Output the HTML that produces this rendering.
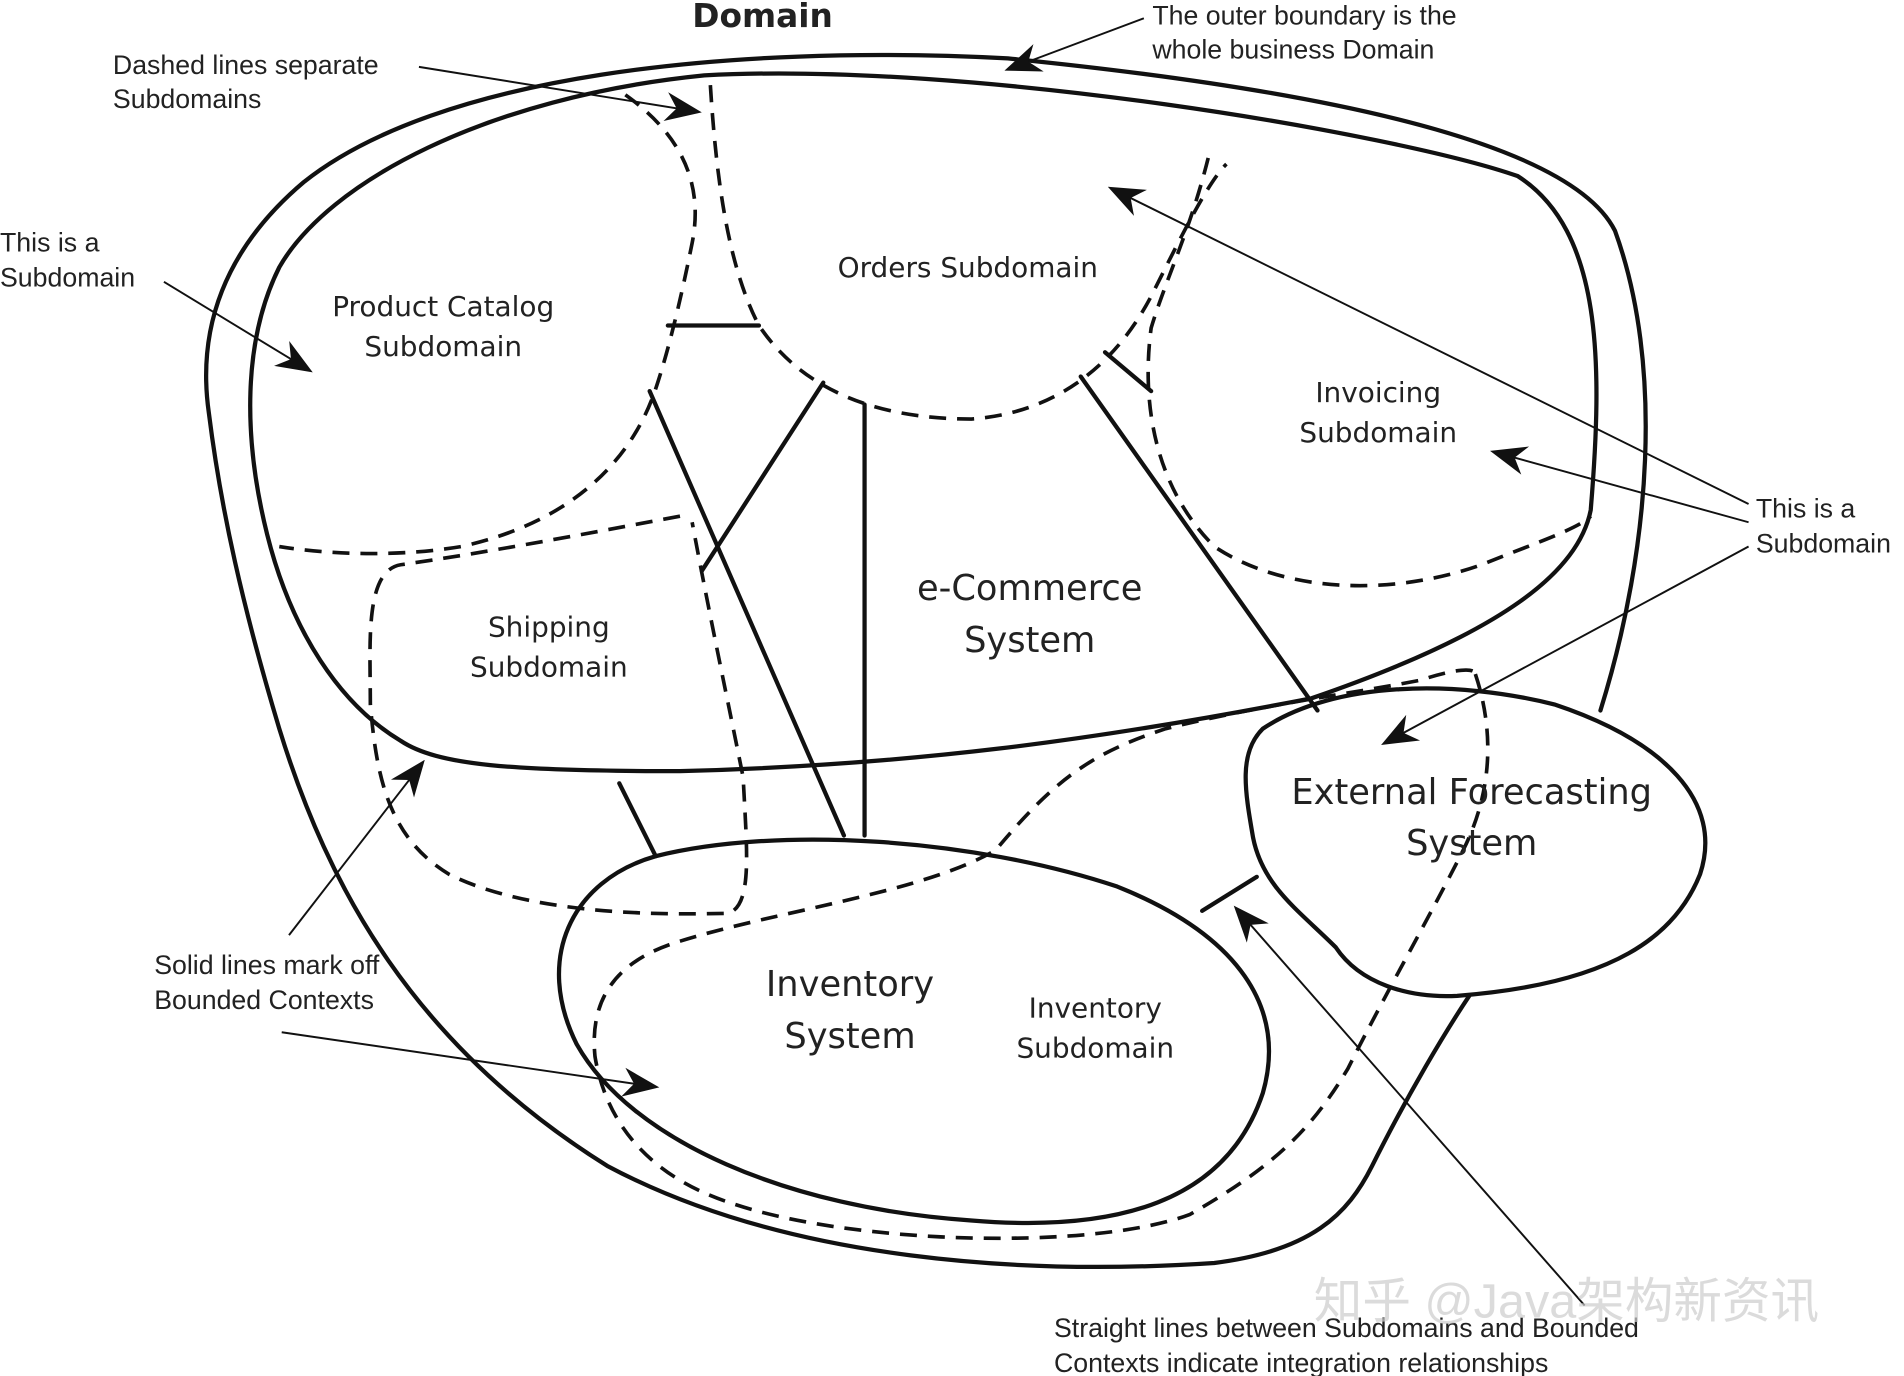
<!DOCTYPE html>
<html><head><meta charset="utf-8"><style>
html,body{margin:0;padding:0;background:#fff;}
svg{display:block;}
.h{font-family:"DejaVu Sans","Liberation Sans",sans-serif;fill:#222;}
.a{font-family:"Liberation Sans",sans-serif;fill:#222;font-size:22px;}
</style></head><body>
<svg width="1904" height="1376" viewBox="0 0 1568 1133" xmlns="http://www.w3.org/2000/svg">
<defs>
<marker id="ar2" viewBox="0 0 10 10" refX="9" refY="5" markerWidth="30" markerHeight="30" markerUnits="userSpaceOnUse" orient="auto"><path d="M0,1 L10,5 L0,9 L3,5 z" fill="#111"/></marker></defs>
<g fill="none" stroke="#111" stroke-width="3.5" stroke-linecap="round">
<!-- outer domain -->
<path d="M1318,585 C1360,450 1370,300 1330,190 C1290,110 1050,70 830,48 C600,36 360,62 250,150 C185,205 162,270 172,340 C182,420 200,500 230,600 C270,730 340,860 500,960 C650,1040 850,1050 1000,1040 C1080,1030 1110,1000 1130,960 C1160,900 1190,850 1210,820"/>
<!-- e-commerce -->
<path d="M580,62 C800,50 1150,110 1250,145 C1320,190 1320,300 1310,420 C1300,470 1240,520 1080,575 C900,610 750,630 560,635 C420,635 360,630 330,610 C280,580 240,520 220,440 C200,360 200,280 230,220 C270,150 400,80 580,62 Z"/>
<!-- inventory -->
<path d="M540,705 C640,680 800,690 920,730 C1020,770 1060,830 1040,900 C1010,990 920,1015 800,1005 C650,995 520,940 475,860 C440,790 470,725 540,705 Z"/>
<!-- forecasting -->
<path d="M1040,600 C1100,560 1200,560 1280,580 C1370,610 1420,660 1400,720 C1380,770 1330,810 1200,820 C1160,822 1120,810 1100,780 C1070,750 1040,730 1032,690 C1025,650 1020,620 1040,600 Z"/>
<!-- solid connectors -->
<path d="M535,322 L695,688"/>
<path d="M712,333 L712,688"/>
<path d="M678,315 L578,470"/>
<path d="M510,645 L540,705"/>
<path d="M890,310 L1085,585"/>
<path d="M990,750 L1035,722"/>
<path d="M550,268 L625,268"/>
<path d="M910,290 L948,322"/>
</g>
<g fill="none" stroke="#111" stroke-width="3" stroke-dasharray="14,9">
<path d="M515,78 C560,110 580,150 570,200 C560,250 550,290 540,320 C520,380 470,430 380,450 C320,460 260,455 230,450"/>
<path d="M585,70 C590,150 600,220 625,268 C660,320 720,345 800,345 C870,340 920,300 950,240 C975,190 995,150 1010,135"/>
<path d="M995,130 C980,190 960,230 948,270 C940,330 950,400 1000,450 C1060,490 1150,490 1220,465 C1270,445 1300,435 1310,425"/>
<path d="M560,425 C480,440 400,455 330,465 C300,470 305,530 305,580 C310,640 320,690 370,720 C420,745 500,755 600,752 C620,745 615,700 612,640 C600,580 585,510 570,430"/>
<path d="M1215,555 C1230,600 1230,650 1205,700 C1180,750 1140,820 1110,880 C1080,930 1050,960 980,1000 C900,1030 700,1025 600,990 C540,970 500,930 490,870 C485,820 510,790 560,775 C640,750 760,735 820,700 C870,640 900,620 960,600 C1040,580 1120,570 1170,560 C1200,550 1215,550 1215,555"/>
</g>
<g stroke="#111" stroke-width="1.6" fill="none">
<path d="M345,55 L575,92" marker-end="url(#ar2)"/>
<path d="M942,15 L830,57" marker-end="url(#ar2)"/>
<path d="M135,232 L255,305" marker-end="url(#ar2)"/>
<path d="M1440,415 L915,155" marker-end="url(#ar2)"/>
<path d="M1440,430 L1230,372" marker-end="url(#ar2)"/>
<path d="M1440,450 L1140,612" marker-end="url(#ar2)"/>
<path d="M238,770 L348,628" marker-end="url(#ar2)"/>
<path d="M232,850 L540,895" marker-end="url(#ar2)"/>
<path d="M1305,1075 L1018,748" marker-end="url(#ar2)"/>
</g>
<g class="h" text-anchor="middle">
<text x="628" y="22" font-size="27" font-weight="bold">Domain</text>
<text x="365" y="260" font-size="23">Product Catalog</text>
<text x="365" y="293" font-size="23">Subdomain</text>
<text x="797" y="228" font-size="23">Orders Subdomain</text>
<text x="1135" y="331" font-size="23">Invoicing</text>
<text x="1135" y="364" font-size="23">Subdomain</text>
<text x="452" y="524" font-size="23">Shipping</text>
<text x="452" y="557" font-size="23">Subdomain</text>
<text x="848" y="494" font-size="29">e-Commerce</text>
<text x="848" y="537" font-size="29">System</text>
<text x="1212" y="662" font-size="29">External Forecasting</text>
<text x="1212" y="704" font-size="29">System</text>
<text x="700" y="820" font-size="29">Inventory</text>
<text x="700" y="863" font-size="29">System</text>
<text x="902" y="838" font-size="23">Inventory</text>
<text x="902" y="871" font-size="23">Subdomain</text>
</g>
<g class="a">
<text x="93" y="61">Dashed lines separate</text>
<text x="93" y="89">Subdomains</text>
<text x="949" y="20">The outer boundary is the</text>
<text x="949" y="48">whole business Domain</text>
<text x="0" y="207">This is a</text>
<text x="0" y="236">Subdomain</text>
<text x="1446" y="426">This is a</text>
<text x="1446" y="455">Subdomain</text>
<text x="127" y="802">Solid lines mark off</text>
<text x="127" y="831">Bounded Contexts</text>
<text x="868" y="1101">Straight lines between Subdomains and Bounded</text>
<text x="868" y="1130">Contexts indicate integration relationships</text>
</g>
<text x="1290" y="1085" font-family="'Liberation Sans','Noto Sans CJK SC',sans-serif" font-size="40" fill="#ccc" fill-opacity="0.7" text-anchor="middle">知乎 @Java架构新资讯</text>
</svg>
</body></html>
